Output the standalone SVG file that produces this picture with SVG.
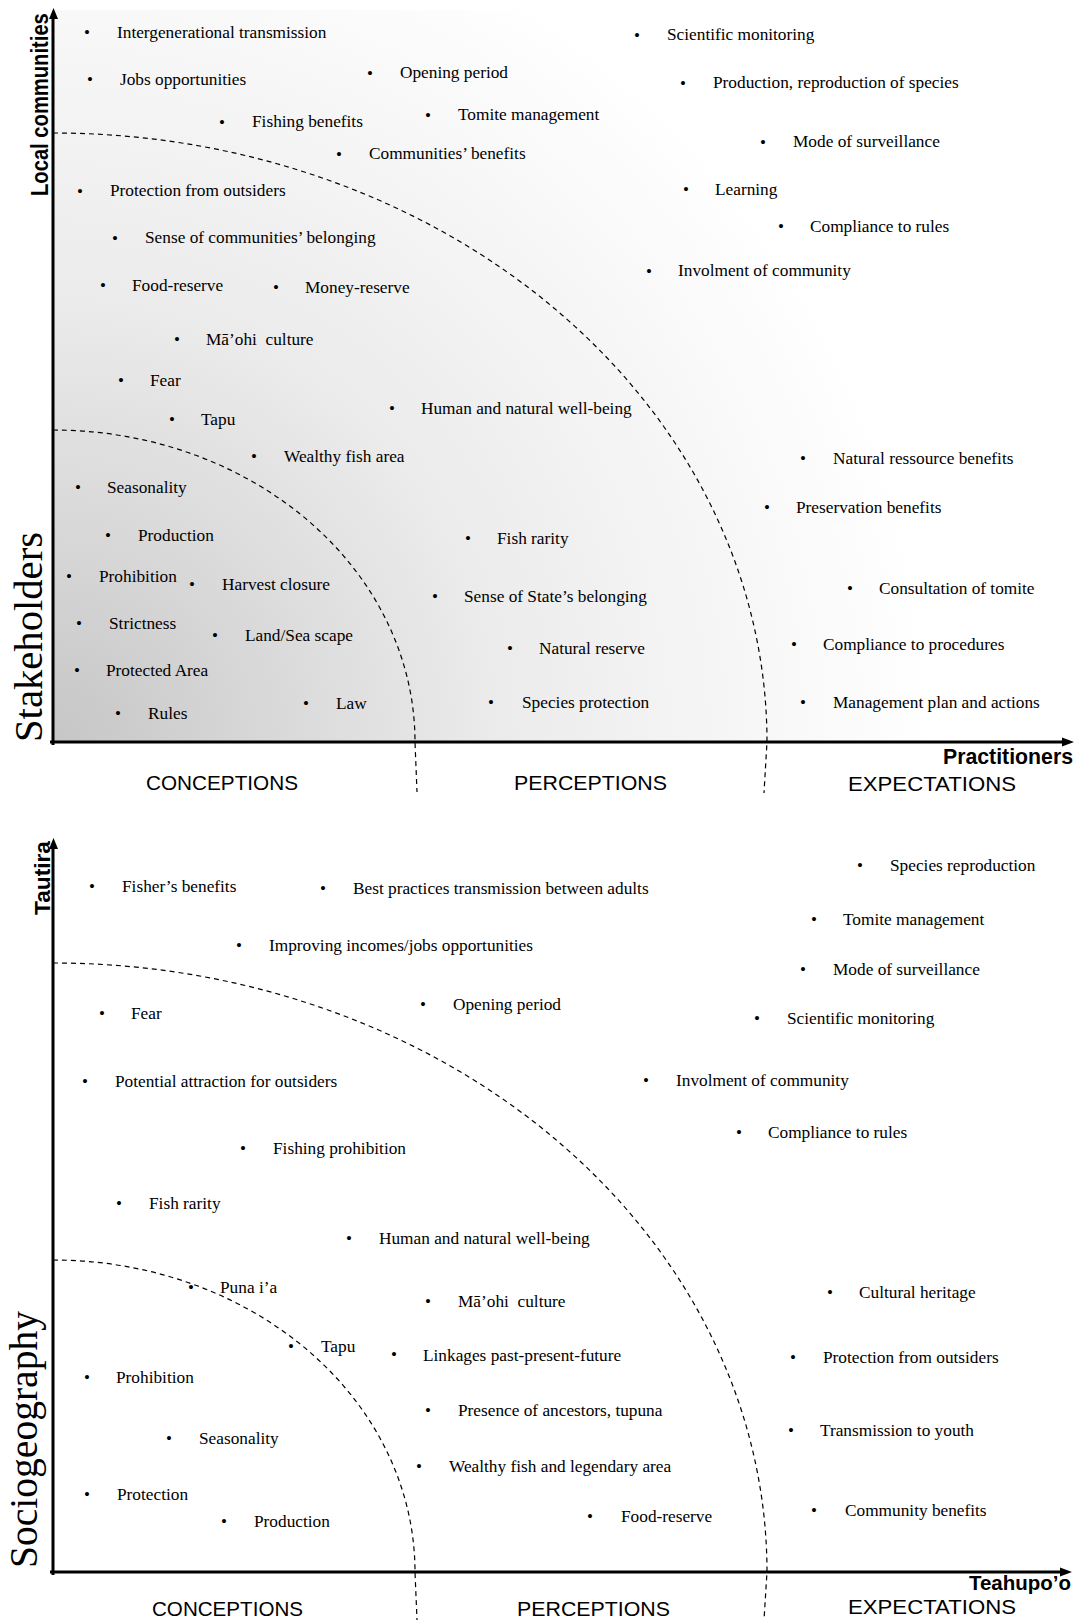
<svg xmlns="http://www.w3.org/2000/svg" width="1077" height="1620" viewBox="0 0 1077 1620">
<style>
.t{font-family:"Liberation Serif","Times New Roman",serif;font-size:17.3px;fill:#000}
.b{font-family:"Liberation Serif","Times New Roman",serif;font-size:17px;fill:#000;text-anchor:middle}
.cat{font-family:"Liberation Sans",Arial,sans-serif;font-size:21px;fill:#000}
.ax{font-family:"Liberation Sans",Arial,sans-serif;font-weight:bold;fill:#000}
.big{font-family:"Liberation Serif","Times New Roman",serif;font-size:40px;fill:#000}
.axis{stroke:#000;stroke-width:3;fill:none}
.arc{stroke:#000;stroke-width:1.2;fill:none;stroke-dasharray:5 4}
</style>
<defs>
<radialGradient id="bg" gradientUnits="userSpaceOnUse" cx="53" cy="742" r="880">
<stop offset="0" stop-color="#c6c6c6"/>
<stop offset="0.5" stop-color="#ebebeb"/>
<stop offset="1" stop-color="#ffffff"/>
</radialGradient>
</defs>
<rect x="0" y="0" width="1077" height="1620" fill="#ffffff"/>
<rect x="53" y="10" width="1000" height="732" fill="url(#bg)"/>

<g id="connectors">
<path class="arc" d="M53,430 A362,312 0 0 1 415,742 L417,792"/>
<path class="arc" d="M53,133 A714,609 0 0 1 767,742 L764,793"/>
<path class="arc" d="M53,1260 A362,312 0 0 1 415,1572 L417,1620"/>
<path class="arc" d="M53,963 A714,609 0 0 1 767,1572 L764,1620"/>
<line class="axis" x1="53" y1="745" x2="53" y2="18"/>
<polygon points="53.5,8 49,19 58,19" fill="#000"/>
<line class="axis" x1="50" y1="742" x2="1064" y2="742"/>
<polygon points="1074,742 1062,737.5 1062,746.5" fill="#000"/>
<line class="axis" x1="53" y1="1575" x2="53" y2="848"/>
<polygon points="53.5,838 49,849 58,849" fill="#000"/>
<line class="axis" x1="50" y1="1572" x2="1062" y2="1572"/>
<polygon points="1072,1572 1060,1567.5 1060,1576.5" fill="#000"/>
</g>

<g id="axis-labels">
<text class="big" transform="translate(42,742) rotate(-90)" textLength="210" lengthAdjust="spacingAndGlyphs">Stakeholders</text>
<text class="ax" font-size="20.2" transform="translate(48,196) rotate(-90) scale(1,1.2)">Local communities</text>
<text class="ax" font-size="22" x="943" y="764" textLength="130" lengthAdjust="spacingAndGlyphs">Practitioners</text>
<text class="cat" x="146" y="790" textLength="152" lengthAdjust="spacingAndGlyphs">CONCEPTIONS</text>
<text class="cat" x="514" y="790" textLength="153" lengthAdjust="spacingAndGlyphs">PERCEPTIONS</text>
<text class="cat" x="848" y="791" textLength="168" lengthAdjust="spacingAndGlyphs">EXPECTATIONS</text>
<text class="big" transform="translate(37,1568) rotate(-90)" textLength="257" lengthAdjust="spacingAndGlyphs">Sociogeography</text>
<text class="ax" font-size="22" transform="translate(50,915) rotate(-90)" textLength="74" lengthAdjust="spacingAndGlyphs">Tautira</text>
<text class="ax" font-size="20.5" x="969" y="1590" textLength="102" lengthAdjust="spacingAndGlyphs">Teahupo’o</text>
<text class="cat" x="152" y="1616" textLength="151" lengthAdjust="spacingAndGlyphs">CONCEPTIONS</text>
<text class="cat" x="517" y="1616" textLength="153" lengthAdjust="spacingAndGlyphs">PERCEPTIONS</text>
<text class="cat" x="848" y="1614" textLength="168" lengthAdjust="spacingAndGlyphs">EXPECTATIONS</text>
</g>

<g id="n-t1"><text class="b" x="87" y="37.5">•</text><text class="t" x="117" y="38">Intergenerational transmission</text></g>
<g id="n-t2"><text class="b" x="90" y="84.5">•</text><text class="t" x="120" y="85">Jobs opportunities</text></g>
<g id="n-t3"><text class="b" x="222" y="127.5">•</text><text class="t" x="252" y="127">Fishing benefits</text></g>
<g id="n-t4"><text class="b" x="339" y="159.5">•</text><text class="t" x="369" y="159">Communities’ benefits</text></g>
<g id="n-t5"><text class="b" x="80" y="196.5">•</text><text class="t" x="110" y="196">Protection from outsiders</text></g>
<g id="n-t6"><text class="b" x="115" y="243.5">•</text><text class="t" x="145" y="243">Sense of communities’ belonging</text></g>
<g id="n-t7"><text class="b" x="103" y="290.5">•</text><text class="t" x="132" y="291">Food-reserve</text></g>
<g id="n-t8"><text class="b" x="276" y="292.5">•</text><text class="t" x="305" y="293">Money-reserve</text></g>
<g id="n-t9"><text class="b" x="177" y="344.5">•</text><text class="t" x="206" y="345" xml:space="preserve">Mā’ohi  culture</text></g>
<g id="n-t10"><text class="b" x="121" y="385.5">•</text><text class="t" x="150" y="386">Fear</text></g>
<g id="n-t11"><text class="b" x="172" y="424.5">•</text><text class="t" x="201" y="425">Tapu</text></g>
<g id="n-t12"><text class="b" x="254" y="461.5">•</text><text class="t" x="284" y="462">Wealthy fish area</text></g>
<g id="n-t13"><text class="b" x="78" y="492.5">•</text><text class="t" x="107" y="493">Seasonality</text></g>
<g id="n-t14"><text class="b" x="108" y="540.5">•</text><text class="t" x="138" y="541">Production</text></g>
<g id="n-t15"><text class="b" x="69" y="581.5">•</text><text class="t" x="99" y="582">Prohibition</text></g>
<g id="n-t16"><text class="b" x="192" y="589.5">•</text><text class="t" x="222" y="590">Harvest closure</text></g>
<g id="n-t17"><text class="b" x="79" y="628.5">•</text><text class="t" x="109" y="629">Strictness</text></g>
<g id="n-t18"><text class="b" x="215" y="640.5">•</text><text class="t" x="245" y="641">Land/Sea scape</text></g>
<g id="n-t19"><text class="b" x="77" y="675.5">•</text><text class="t" x="106" y="676">Protected Area</text></g>
<g id="n-t20"><text class="b" x="118" y="718.5">•</text><text class="t" x="148" y="719">Rules</text></g>
<g id="n-t21"><text class="b" x="306" y="708.5">•</text><text class="t" x="336" y="709">Law</text></g>
<g id="n-t22"><text class="b" x="370" y="78.5">•</text><text class="t" x="400" y="78">Opening period</text></g>
<g id="n-t23"><text class="b" x="428" y="120.5">•</text><text class="t" x="458" y="120">Tomite management</text></g>
<g id="n-t24"><text class="b" x="392" y="413.5">•</text><text class="t" x="421" y="414">Human and natural well-being</text></g>
<g id="n-t25"><text class="b" x="468" y="543.5">•</text><text class="t" x="497" y="544">Fish rarity</text></g>
<g id="n-t26"><text class="b" x="435" y="601.5">•</text><text class="t" x="464" y="602">Sense of State’s belonging</text></g>
<g id="n-t27"><text class="b" x="510" y="653.5">•</text><text class="t" x="539" y="654">Natural reserve</text></g>
<g id="n-t28"><text class="b" x="491" y="707.5">•</text><text class="t" x="522" y="708">Species protection</text></g>
<g id="n-t29"><text class="b" x="637" y="40.5">•</text><text class="t" x="667" y="40">Scientific monitoring</text></g>
<g id="n-t30"><text class="b" x="683" y="88.5">•</text><text class="t" x="713" y="88">Production, reproduction of species</text></g>
<g id="n-t31"><text class="b" x="763" y="147.5">•</text><text class="t" x="793" y="147">Mode of surveillance</text></g>
<g id="n-t32"><text class="b" x="686" y="194.5">•</text><text class="t" x="715" y="195">Learning</text></g>
<g id="n-t33"><text class="b" x="781" y="231.5">•</text><text class="t" x="810" y="232">Compliance to rules</text></g>
<g id="n-t34"><text class="b" x="649" y="276.5">•</text><text class="t" x="678" y="276">Involment of community</text></g>
<g id="n-t35"><text class="b" x="803" y="463.5">•</text><text class="t" x="833" y="464">Natural ressource benefits</text></g>
<g id="n-t36"><text class="b" x="767" y="512.5">•</text><text class="t" x="796" y="513">Preservation benefits</text></g>
<g id="n-t37"><text class="b" x="850" y="593.5">•</text><text class="t" x="879" y="594">Consultation of tomite</text></g>
<g id="n-t38"><text class="b" x="794" y="649.5">•</text><text class="t" x="823" y="650">Compliance to procedures</text></g>
<g id="n-t39"><text class="b" x="803" y="707.5">•</text><text class="t" x="833" y="708">Management plan and actions</text></g>

<g id="n-b1"><text class="b" x="92" y="891.5">•</text><text class="t" x="122" y="892">Fisher’s benefits</text></g>
<g id="n-b2"><text class="b" x="323" y="893.5">•</text><text class="t" x="353" y="894">Best practices transmission between adults</text></g>
<g id="n-b3"><text class="b" x="239" y="950.5">•</text><text class="t" x="269" y="951">Improving incomes/jobs opportunities</text></g>
<g id="n-b4"><text class="b" x="102" y="1018.5">•</text><text class="t" x="131" y="1019">Fear</text></g>
<g id="n-b5"><text class="b" x="85" y="1086.5">•</text><text class="t" x="115" y="1087">Potential attraction for outsiders</text></g>
<g id="n-b6"><text class="b" x="243" y="1153.5">•</text><text class="t" x="273" y="1154">Fishing prohibition</text></g>
<g id="n-b7"><text class="b" x="119" y="1208.5">•</text><text class="t" x="149" y="1209">Fish rarity</text></g>
<g id="n-b8"><text class="b" x="349" y="1243.5">•</text><text class="t" x="379" y="1244">Human and natural well-being</text></g>
<g id="n-b9"><text class="b" x="191" y="1292.5">•</text><text class="t" x="220" y="1293">Puna i’a</text></g>
<g id="n-b10"><text class="b" x="291" y="1351.5">•</text><text class="t" x="321" y="1352">Tapu</text></g>
<g id="n-b11"><text class="b" x="87" y="1382.5">•</text><text class="t" x="116" y="1383">Prohibition</text></g>
<g id="n-b12"><text class="b" x="169" y="1443.5">•</text><text class="t" x="199" y="1444">Seasonality</text></g>
<g id="n-b13"><text class="b" x="87" y="1499.5">•</text><text class="t" x="117" y="1500">Protection</text></g>
<g id="n-b14"><text class="b" x="224" y="1526.5">•</text><text class="t" x="254" y="1527">Production</text></g>
<g id="n-b15"><text class="b" x="423" y="1009.5">•</text><text class="t" x="453" y="1010">Opening period</text></g>
<g id="n-b16"><text class="b" x="428" y="1306.5">•</text><text class="t" x="458" y="1307" xml:space="preserve">Mā’ohi  culture</text></g>
<g id="n-b17"><text class="b" x="394" y="1359.5">•</text><text class="t" x="423" y="1361">Linkages past-present-future</text></g>
<g id="n-b18"><text class="b" x="428" y="1415.5">•</text><text class="t" x="458" y="1416">Presence of ancestors, tupuna</text></g>
<g id="n-b19"><text class="b" x="419" y="1471.5">•</text><text class="t" x="449" y="1472">Wealthy fish and legendary area</text></g>
<g id="n-b20"><text class="b" x="590" y="1521.5">•</text><text class="t" x="621" y="1522">Food-reserve</text></g>
<g id="n-b21"><text class="b" x="646" y="1085.5">•</text><text class="t" x="676" y="1086">Involment of community</text></g>
<g id="n-b22"><text class="b" x="739" y="1137.5">•</text><text class="t" x="768" y="1138">Compliance to rules</text></g>
<g id="n-b23"><text class="b" x="860" y="870.5">•</text><text class="t" x="890" y="871">Species reproduction</text></g>
<g id="n-b24"><text class="b" x="814" y="924.5">•</text><text class="t" x="843" y="925">Tomite management</text></g>
<g id="n-b25"><text class="b" x="803" y="974.5">•</text><text class="t" x="833" y="975">Mode of surveillance</text></g>
<g id="n-b26"><text class="b" x="757" y="1023.5">•</text><text class="t" x="787" y="1024">Scientific monitoring</text></g>
<g id="n-b27"><text class="b" x="830" y="1297.5">•</text><text class="t" x="859" y="1298">Cultural heritage</text></g>
<g id="n-b28"><text class="b" x="793" y="1362.5">•</text><text class="t" x="823" y="1363">Protection from outsiders</text></g>
<g id="n-b29"><text class="b" x="791" y="1435.5">•</text><text class="t" x="820" y="1436">Transmission to youth</text></g>
<g id="n-b30"><text class="b" x="814" y="1515.5">•</text><text class="t" x="845" y="1516">Community benefits</text></g>
</svg>
